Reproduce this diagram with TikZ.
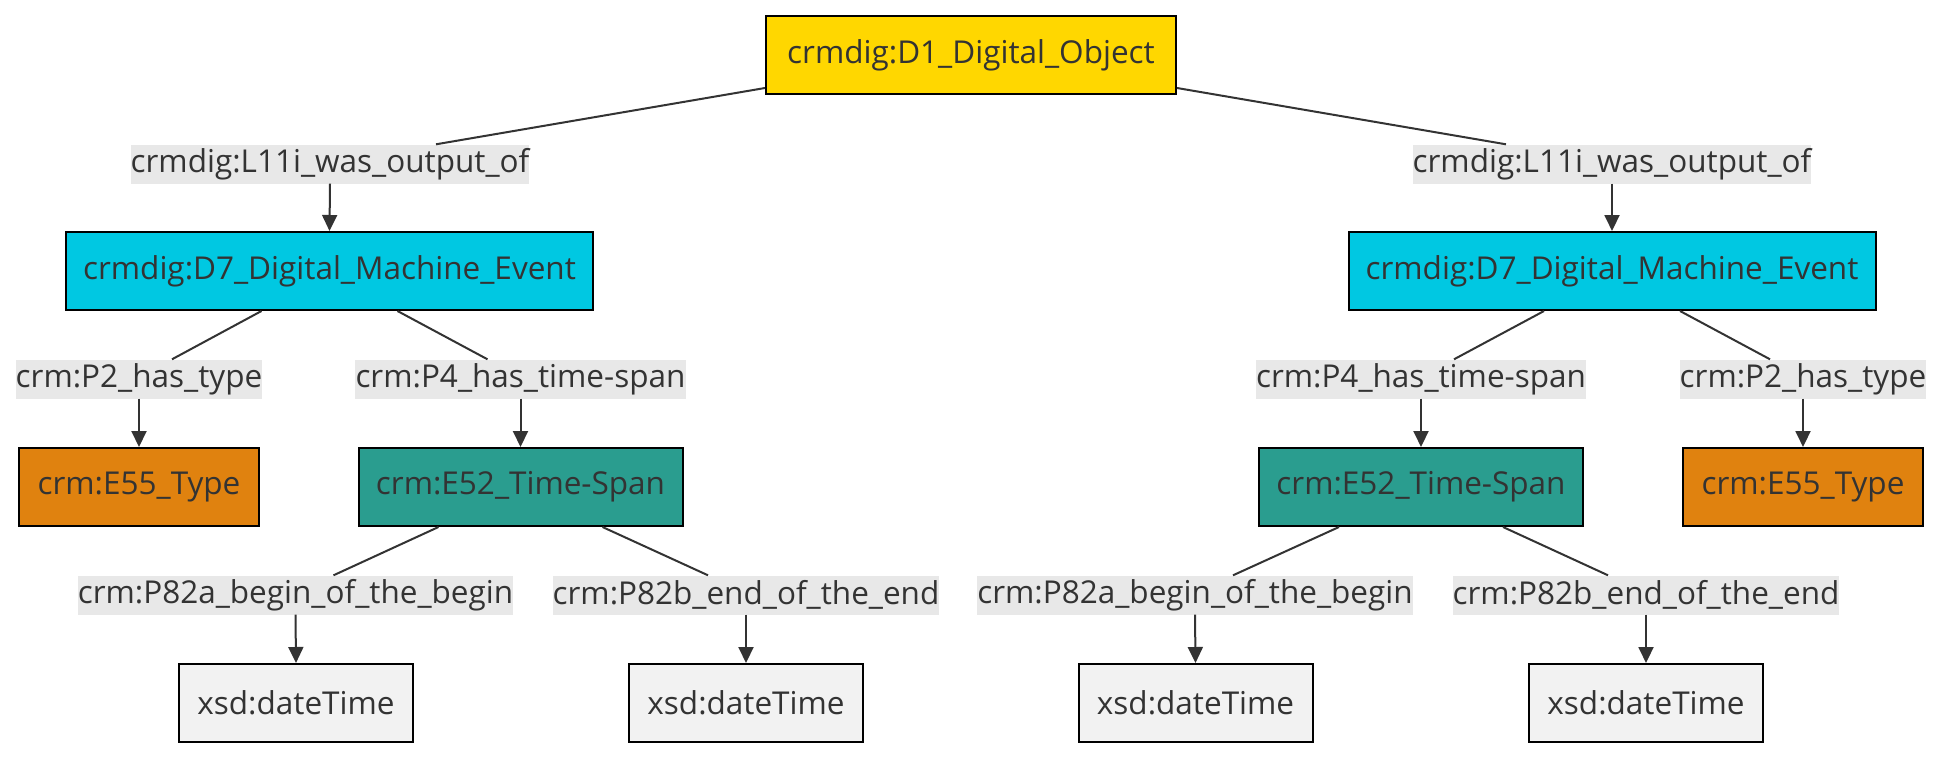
\documentclass[tikz,border=0pt]{standalone}
\usepackage{fontspec}
\setmainfont{Open Sans}
\usetikzlibrary{arrows.meta,calc}
\definecolor{txt}{HTML}{333333}
\definecolor{edgec}{HTML}{333333}
\definecolor{lblbg}{HTML}{E8E8E8}
\definecolor{cgold}{HTML}{FFD700}
\definecolor{ccyan}{HTML}{00C8E2}
\definecolor{corange}{HTML}{E0820F}
\definecolor{cteal}{HTML}{2A9D8F}
\definecolor{cgray}{HTML}{F2F2F2}
\begin{document}
\begin{tikzpicture}[x=1pt,y=-1pt,
  every node/.style={font=\fontsize{31.5}{36}\selectfont, text=txt},
  box/.style={draw=black, line width=2pt, minimum height=78pt, inner sep=0pt},
  lbl/.style={fill=lblbg, minimum height=39pt, inner sep=0pt},
  edge/.style={draw=edgec, line width=2pt},
  arr/.style={edge, -{Triangle[length=16pt,width=15pt]}}]
\useasboundingbox (0,0) rectangle (1942,758);

% row 1
\node[box, fill=cgold, minimum width=410pt] (d1) at (971,55) {crmdig:D1\_Digital\_Object};
% row 2
\node[lbl, minimum width=396pt] (lA) at (330,164) {crmdig:L11i\_was\_output\_of};
\node[lbl, minimum width=396pt] (lB) at (1612,164) {crmdig:L11i\_was\_output\_of};
% row 3
\node[box, fill=ccyan, minimum width=527pt] (d7A) at (329.5,271) {crmdig:D7\_Digital\_Machine\_Event};
\node[box, fill=ccyan, minimum width=527pt] (d7B) at (1612,271) {crmdig:D7\_Digital\_Machine\_Event};
% row 4
\node[lbl, minimum width=246pt] (p2A) at (139,379) {crm:P2\_has\_type};
\node[lbl, minimum width=323pt] (p4A) at (520.5,379) {crm:P4\_has\_time-span};
\node[lbl, minimum width=323pt] (p4B) at (1421,379) {crm:P4\_has\_time-span};
\node[lbl, minimum width=246pt] (p2B) at (1803,379) {crm:P2\_has\_type};
% row 5
\node[box, fill=corange, minimum width=240pt] (e55A) at (139,487) {crm:E55\_Type};
\node[box, fill=cteal, minimum width=324pt] (e52A) at (520.5,487) {crm:E52\_Time-Span};
\node[box, fill=cteal, minimum width=324pt] (e52B) at (1421,487) {crm:E52\_Time-Span};
\node[box, fill=corange, minimum width=240pt] (e55B) at (1803,487) {crm:E55\_Type};
% row 6
\node[lbl, minimum width=434pt] (baA) at (295.5,595) {crm:P82a\_begin\_of\_the\_begin};
\node[lbl, minimum width=386pt] (ebA) at (746,595) {crm:P82b\_end\_of\_the\_end};
\node[lbl, minimum width=434pt] (baB) at (1195,595) {crm:P82a\_begin\_of\_the\_begin};
\node[lbl, minimum width=386pt] (ebB) at (1646,595) {crm:P82b\_end\_of\_the\_end};
% row 7
\node[box, fill=cgray, minimum width=234pt] (x1) at (296,703) {xsd:dateTime};
\node[box, fill=cgray, minimum width=234pt] (x2) at (746,703) {xsd:dateTime};
\node[box, fill=cgray, minimum width=234pt] (x3) at (1195.5,703) {xsd:dateTime};
\node[box, fill=cgray, minimum width=234pt] (x4) at (1646,703) {xsd:dateTime};

% edges: source to label
\draw[edge] ([yshift=-33pt]d1.west) -- ([xshift=106pt]lA.north);
\draw[edge] ([yshift=-33pt]d1.east) -- ([xshift=-106pt]lB.north);
\draw[edge] ([xshift=-68pt]d7A.south) -- ([xshift=33pt]p2A.north);
\draw[edge] ([xshift=68pt]d7A.south) -- ([xshift=-33pt]p4A.north);
\draw[edge] ([xshift=-68pt]d7B.south) -- ([xshift=33pt]p4B.north);
\draw[edge] ([xshift=68pt]d7B.south) -- ([xshift=-33pt]p2B.north);
\draw[edge] ([xshift=-82pt]e52A.south) -- ([xshift=38pt]baA.north);
\draw[edge] ([xshift=82pt]e52A.south) -- ([xshift=-38pt]ebA.north);
\draw[edge] ([xshift=-82pt]e52B.south) -- ([xshift=38pt]baB.north);
\draw[edge] ([xshift=82pt]e52B.south) -- ([xshift=-38pt]ebB.north);
% edges: label to target
\draw[arr] (lA.south) -- (d7A.north);
\draw[arr] (lB.south) -- (d7B.north);
\draw[arr] (p2A.south) -- (e55A.north);
\draw[arr] (p4A.south) -- (e52A.north);
\draw[arr] (p4B.south) -- (e52B.north);
\draw[arr] (p2B.south) -- (e55B.north);
\draw[arr] (baA.south) -- (x1.north);
\draw[arr] (ebA.south) -- (x2.north);
\draw[arr] (baB.south) -- (x3.north);
\draw[arr] (ebB.south) -- (x4.north);
\end{tikzpicture}
\end{document}
